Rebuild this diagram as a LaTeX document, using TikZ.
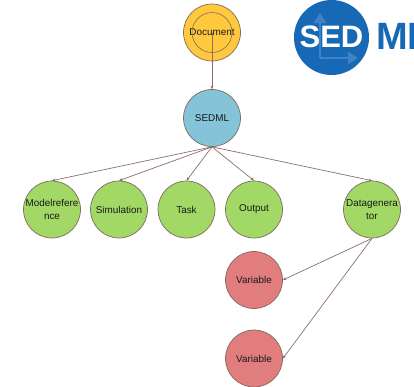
\documentclass[tikz,border=0pt]{standalone}
\usepackage{fontspec}
\setmainfont{Liberation Sans}
\usetikzlibrary{arrows.meta}
\definecolor{edgecol}{HTML}{8A6F6B}
\definecolor{outl}{HTML}{7F6A60}
\definecolor{docfill}{HTML}{FFC83D}
\definecolor{sedfill}{HTML}{85C3D8}
\definecolor{greenfill}{HTML}{A2D866}
\definecolor{redfill}{HTML}{E27D7D}
\definecolor{logoblue}{HTML}{1769B5}
\definecolor{logoaxis}{HTML}{3F83C6}
\tikzset{
  circ/.style={circle,draw=outl,line width=0.7pt,minimum size=57pt,inner sep=0pt,align=center,font=\fontsize{9.9}{12.8}\selectfont,text=black!90},
  docnode/.style={circ,fill=docfill},
  sednode/.style={circ,fill=sedfill},
  greennode/.style={circ,fill=greenfill},
  rednode/.style={circ,fill=redfill},
  conn/.style={draw=edgecol,line width=0.7pt,-{Stealth[length=3.5pt,width=3pt]}},
  axisline/.style={draw=logoaxis,line width=2.5pt,-{Triangle[length=10pt,width=12pt]}}
}
\begin{document}
\begin{tikzpicture}[x=1pt,y=-1pt]
\useasboundingbox (0,0) rectangle (414,386);
% logo
\begin{scope}
\clip (0,0) rectangle (414,386);
\fill[logoblue] (331.5,37.5) circle (37.5);
\coordinate (axo) at (320,58);
\coordinate (axu) at (320,13);
\coordinate (axr) at (358,58);
\draw[axisline] (axo) -- (axu);
\draw[axisline] (axo) -- (axr);
\node[font=\fontsize{31}{31}\bfseries\selectfont,text=white,inner sep=0pt] (sedtext) at (331.5,37) {SED};
\node[anchor=west,font=\fontsize{38}{38}\bfseries\selectfont,text=logoblue,inner sep=0pt] (mltext) at (376,36) {ML};
\end{scope}
\node[docnode] (doc) at (212,32.5) {Document};
\node[circle,draw=outl,line width=0.6pt,minimum size=40pt,inner sep=0pt] (docin) at (212,32.5) {};
\node[sednode] (sed) at (212,118) {SEDML};
\node[greennode] (mr) at (52,209.5) {Modelrefere\\nce};
\node[greennode] (sim) at (119,209.5) {Simulation};
\node[greennode] (task) at (186.5,209.5) {Task};
\node[greennode] (out) at (254,209.5) {Output};
\node[greennode] (dg) at (372,209.5) {Datagenera\\tor};
\node[rednode] (v1) at (254,280) {Variable};
\node[rednode] (v2) at (254,358.5) {Variable};
\draw[conn] (doc.center) -- (sed.north);
\foreach \t in {mr,sim,task,out,dg}{\draw[conn] (sed.south) -- (\t.north);}
\draw[conn] (dg.south) -- (v1.east);
\draw[conn] (dg.south) -- (v2.east);
\end{tikzpicture}
\end{document}
